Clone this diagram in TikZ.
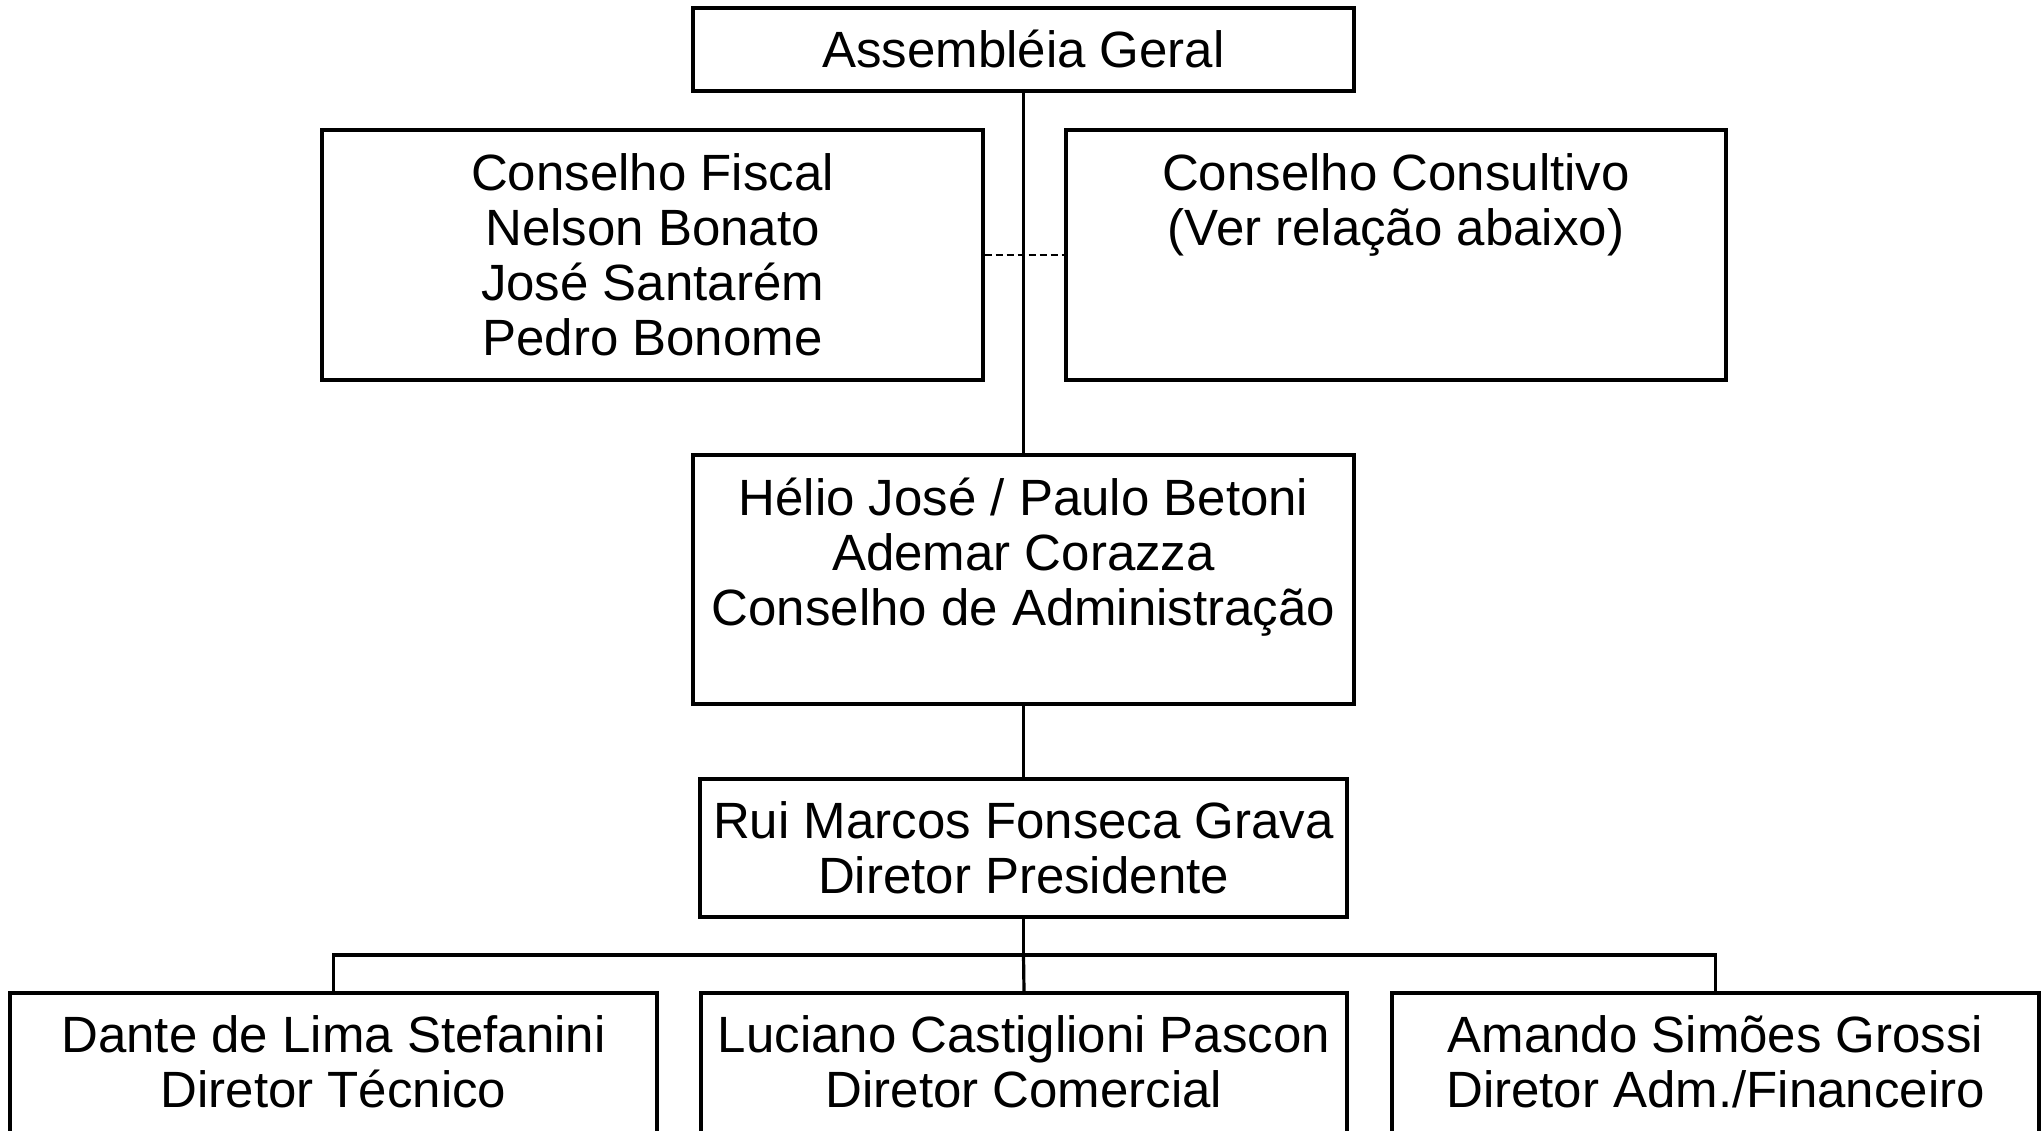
\documentclass[tikz,border=0pt]{standalone}
\usepackage{fontspec}
\setmainfont{Liberation Sans}
\usetikzlibrary{positioning}

\tikzset{every picture/.style={line width=1.6pt}}
\tikzset{
  orgbox/.style={draw, rectangle, inner sep=0pt},
  orgtext/.style={anchor=north, inner sep=0pt, align=center, font=\fontsize{25.5}{27.5}\selectfont},
  dotlink/.style={line width=1.4pt, dash pattern=on 3.5pt off 2pt},
}

\begin{document}
\begin{tikzpicture}[x=0.5pt,y=0.5pt,yscale=-1,xscale=1]
    \useasboundingbox (0,0) rectangle (2043,1130);
    \clip (0,0) rectangle (2043,1130);

    %Rect assembleia
    \node [orgbox, minimum width=330.5pt, minimum height=41.5pt] (assem) at (1023.5,49.5) {};
    %Rect conselho fiscal
    \node [orgbox, minimum width=330.5pt, minimum height=125pt] (fiscal) at (652.5,255) {};
    %Rect conselho consultivo
    \node [orgbox, minimum width=330pt, minimum height=125pt] (consult) at (1396,255) {};
    %Rect conselho de administracao
    \node [orgbox, minimum width=330.5pt, minimum height=124.5pt] (adm) at (1023.5,579.5) {};
    %Rect diretor presidente
    \node [orgbox, minimum width=323.5pt, minimum height=69pt] (rui) at (1023.5,848) {};
    %Rect diretores
    \node [orgbox, minimum width=323.5pt, minimum height=150pt] (tec) at (333.5,1143) {};
    \node [orgbox, minimum width=323pt, minimum height=150pt] (com) at (1024,1143) {};
    \node [orgbox, minimum width=323.5pt, minimum height=150pt] (fin) at (1715.5,1143) {};

    % Text Node
    \node [orgtext] (assemtxt) at (1023.5,27.5) {\strut Assembléia Geral};
    % Text Node
    \node [orgtext] (fiscaltxt) at (652.5,150) {\strut Conselho Fiscal\\Nelson Bonato\\José Santarém\\Pedro Bonome};
    % Text Node
    \node [orgtext] (consulttxt) at (1396,150) {\strut Conselho Consultivo\\(Ver relação abaixo)};
    % Text Node
    \node [orgtext] (admtxt) at (1023.5,475) {\strut Hélio José / Paulo Betoni\\Ademar Corazza\\Conselho de Administração};
    % Text Node
    \node [orgtext] (ruitxt) at (1023.5,798.5) {\strut Rui Marcos Fonseca Grava\\Diretor Presidente};
    % Text Node
    \node [orgtext] (tectxt) at (333.5,1012) {\strut Dante de Lima Stefanini\\Diretor Técnico};
    % Text Node
    \node [orgtext] (comtxt) at (1024,1012) {\strut Luciano Castiglioni Pascon\\Diretor Comercial};
    % Text Node
    \node [orgtext] (fintxt) at (1715.5,1012) {\strut Amando Simões Grossi\\Diretor Adm./Financeiro};

    %Straight Lines
    \draw (assem) -- (adm);
    \draw [dotlink] (fiscal) -- (consult);
    \draw (adm) -- (rui);
    \coordinate (split) at (1023.5,955);
    \draw (rui) -- (split);
    \draw (tec.north) |- (split) -| (fin.north);
    \draw (split) -- (com.north);

\end{tikzpicture}
\end{document}
